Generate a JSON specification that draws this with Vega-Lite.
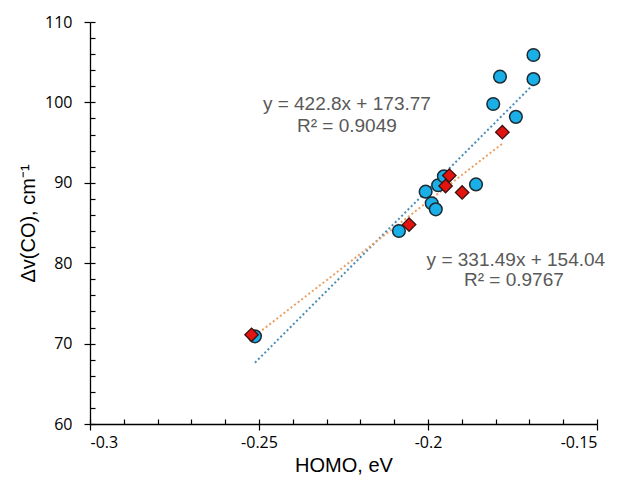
{
  "$schema": "https://vega.github.io/schema/vega-lite/v6.json",
  "width": 507,
  "height": 402,
  "autosize": "none",
  "padding": {"left": 90, "top": 22, "right": 23, "bottom": 68},
  "background": "white",
  "config": {"view": {"stroke": null}},
  "data": {
    "values": [
      {"series": "A", "homo": -0.1688, "dv": 105.9},
      {"series": "A", "homo": -0.1787, "dv": 103.2},
      {"series": "A", "homo": -0.1688, "dv": 102.9},
      {"series": "A", "homo": -0.1807, "dv": 99.8},
      {"series": "A", "homo": -0.1740, "dv": 98.2},
      {"series": "A", "homo": -0.1858, "dv": 89.8},
      {"series": "A", "homo": -0.2007, "dv": 88.9},
      {"series": "A", "homo": -0.1970, "dv": 89.7},
      {"series": "A", "homo": -0.1953, "dv": 90.8},
      {"series": "A", "homo": -0.1989, "dv": 87.45},
      {"series": "A", "homo": -0.1977, "dv": 86.7},
      {"series": "A", "homo": -0.2086, "dv": 84.0},
      {"series": "A", "homo": -0.2512, "dv": 70.9},
      {"series": "B", "homo": -0.1780, "dv": 96.3},
      {"series": "B", "homo": -0.1937, "dv": 90.9},
      {"series": "B", "homo": -0.1948, "dv": 89.6},
      {"series": "B", "homo": -0.1899, "dv": 88.8},
      {"series": "B", "homo": -0.2056, "dv": 84.8},
      {"series": "B", "homo": -0.2522, "dv": 71.1}
    ]
  },
  "resolve": {"axis": {"x": "independent", "y": "independent"}},
  "layer": [
    {
      "transform": [
        {"filter": "datum.series === 'A'"},
        {"regression": "dv", "on": "homo", "method": "linear"}
      ],
      "mark": {"type": "line", "color": "#4A8DB7", "strokeWidth": 2, "strokeDash": [2, 2.5]},
      "encoding": {
        "x": {"field": "homo", "type": "quantitative", "scale": {"domain": [-0.3, -0.15], "nice": false, "zero": false},
          "axis": {"orient": "bottom", "values": [-0.3, -0.29, -0.28, -0.27, -0.26, -0.25, -0.24, -0.23, -0.22, -0.21, -0.2, -0.19, -0.18, -0.17, -0.16, -0.15],
            "tickSize": -5, "tickColor": "#000000", "tickWidth": 1.2, "labels": false, "domain": false, "grid": false, "title": null}},
        "y": {"field": "dv", "type": "quantitative", "scale": {"domain": [60, 110], "nice": false, "zero": false},
          "axis": {"orient": "left", "values": [60, 62, 64, 66, 68, 70, 72, 74, 76, 78, 80, 82, 84, 86, 88, 90, 92, 94, 96, 98, 100, 102, 104, 106, 108, 110],
            "tickSize": -5, "tickColor": "#000000", "tickWidth": 1.2, "labels": false, "domain": false, "grid": false, "title": null}}
      }
    },
    {
      "transform": [
        {"filter": "datum.series === 'B'"},
        {"regression": "dv", "on": "homo", "method": "linear"}
      ],
      "mark": {"type": "line", "color": "#E8A065", "strokeWidth": 2, "strokeDash": [2, 2.5]},
      "encoding": {
        "x": {"field": "homo", "type": "quantitative", "axis": null},
        "y": {"field": "dv", "type": "quantitative", "axis": null}
      }
    },
    {
      "transform": [{"filter": "datum.series === 'A'"}],
      "mark": {"type": "point", "shape": "circle", "filled": true, "fill": "#1AAFE6", "stroke": "#1C2B33", "strokeWidth": 1.5, "size": 160, "opacity": 1},
      "encoding": {
        "x": {"field": "homo", "type": "quantitative",
          "axis": {"orient": "bottom", "values": [-0.3, -0.25, -0.2, -0.15], "labelExpr": "'' + datum.value", "tickSize": 6, "tickColor": "#000000", "tickWidth": 1.2,
            "domainColor": "#000000", "domainWidth": 1.3, "grid": false,
            "labelFont": "Open Sans", "labelFontSize": 16, "labelColor": "#000000", "labelPadding": 4,
            "title": "HOMO, eV", "titleFont": "Liberation Sans", "titleFontSize": 20, "titleFontWeight": "normal", "titleColor": "#000000",
            "titleX": 253.5, "titleY": 41, "titleBaseline": "middle", "titleAlign": "center"}},
        "y": {"field": "dv", "type": "quantitative",
          "axis": {"orient": "left", "values": [60, 70, 80, 90, 100, 110], "tickSize": 6, "tickColor": "#000000", "tickWidth": 1.2,
            "domainColor": "#000000", "domainWidth": 1.3, "grid": false,
            "labelFont": "Open Sans", "labelFontSize": 16, "labelColor": "#000000", "labelPadding": 12,
            "title": "Δv(CO), cm⁻¹", "titleFont": "Liberation Sans", "titleFontSize": 20, "titleFontWeight": "normal", "titleColor": "#000000",
            "titleX": -62, "titleY": 201, "titleBaseline": "middle", "titleAlign": "center", "titleAngle": -90}}
      }
    },
    {
      "transform": [{"filter": "datum.series === 'B'"}],
      "mark": {"type": "point", "shape": "diamond", "filled": true, "fill": "#E3140F", "stroke": "#3A1010", "strokeWidth": 1.3, "size": 180, "opacity": 1},
      "encoding": {
        "x": {"field": "homo", "type": "quantitative", "axis": null},
        "y": {"field": "dv", "type": "quantitative", "axis": null}
      }
    },
    {
      "data": {"values": [{}]},
      "mark": {"type": "text", "text": "y = 422.8x + 173.77", "font": "Liberation Sans", "fontSize": 19, "color": "#595959", "align": "center", "baseline": "middle"},
      "encoding": {
        "x": {"datum": -0.2240, "type": "quantitative", "axis": null},
        "y": {"datum": 99.8, "type": "quantitative", "axis": null}
      }
    },
    {
      "data": {"values": [{}]},
      "mark": {"type": "text", "text": "R² = 0.9049", "font": "Liberation Sans", "fontSize": 19, "color": "#595959", "align": "center", "baseline": "middle"},
      "encoding": {
        "x": {"datum": -0.2240, "type": "quantitative", "axis": null},
        "y": {"datum": 97.1, "type": "quantitative", "axis": null}
      }
    },
    {
      "data": {"values": [{}]},
      "mark": {"type": "text", "text": "y = 331.49x + 154.04", "font": "Liberation Sans", "fontSize": 19, "color": "#595959", "align": "center", "baseline": "middle"},
      "encoding": {
        "x": {"datum": -0.1740, "type": "quantitative", "axis": null},
        "y": {"datum": 80.4, "type": "quantitative", "axis": null}
      }
    },
    {
      "data": {"values": [{}]},
      "mark": {"type": "text", "text": "R² = 0.9767", "font": "Liberation Sans", "fontSize": 19, "color": "#595959", "align": "center", "baseline": "middle"},
      "encoding": {
        "x": {"datum": -0.1746, "type": "quantitative", "axis": null},
        "y": {"datum": 77.9, "type": "quantitative", "axis": null}
      }
    }
  ]
}
